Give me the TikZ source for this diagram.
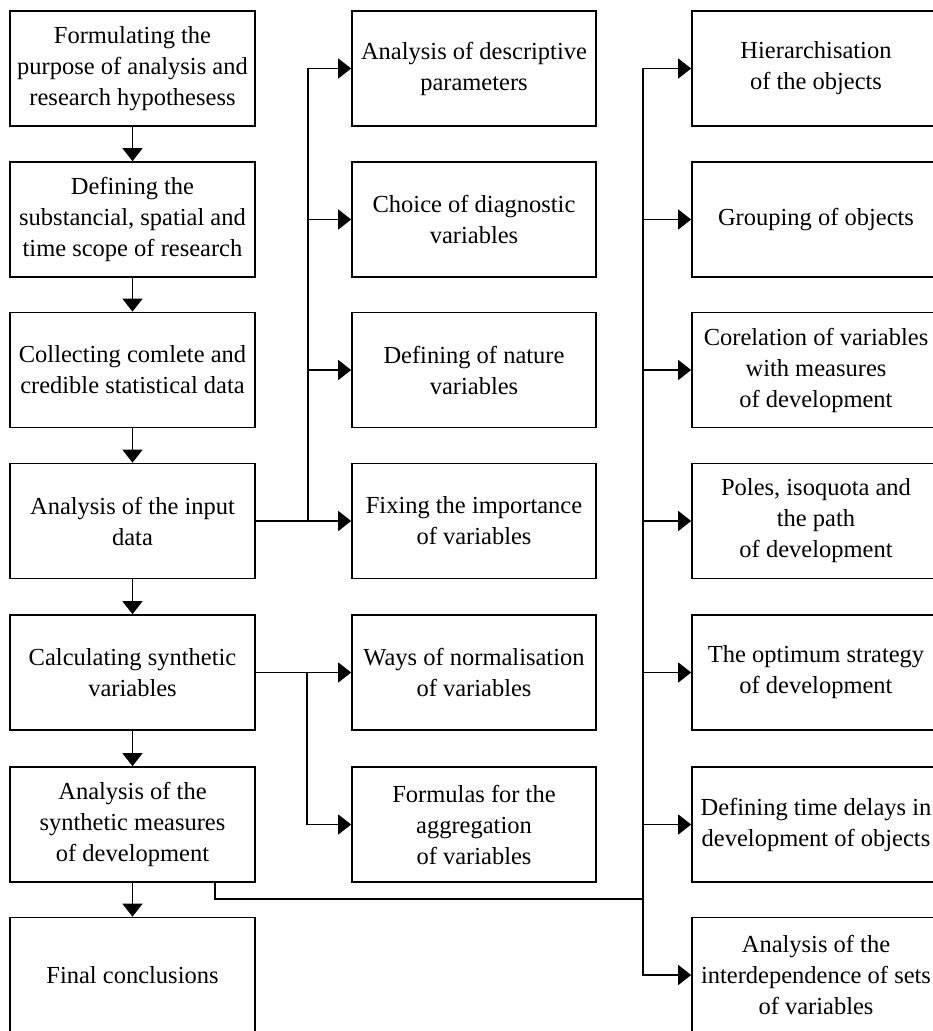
\documentclass[tikz,border=0pt]{standalone}
\usepackage{fontspec}
\setmainfont{Liberation Serif}
\usetikzlibrary{arrows.meta}
\begin{document}
\begin{tikzpicture}[x=1pt,y=-1pt,
  box/.style={draw, line width=1.7pt, rectangle, align=center, inner sep=0pt,
    minimum height=115pt, font=\fontsize{24.5pt}{31pt}\selectfont},
  lbox/.style={box, minimum width=245pt},
  mbox/.style={box, minimum width=244pt},
  rbox/.style={box, minimum width=248pt},
  link/.style={line width=1.7pt},
  arr/.style={link, -{Triangle[length=13pt,width=20pt]}}]
\useasboundingbox (0,0) rectangle (933,1031);
\clip (0,0) rectangle (933,1031);

% main sequence of stages
\node[lbox] (b1) at (132.5,68.5) {Formulating the\\purpose of analysis and\\research hypothesess};
\node[lbox] (b2) at (132.5,219.5) {Defining the\\substancial, spatial and\\time scope of research};
\node[lbox] (b3) at (132.5,370) {Collecting comlete and\\credible statistical data};
\node[lbox] (b4) at (132.5,521) {Analysis of the input\\data};
\node[lbox] (b5) at (132.5,672.5) {Calculating synthetic\\variables};
\node[lbox] (b6) at (132.5,824.5) {Analysis of the\\synthetic measures\\of development};
\node[lbox] (b7) at (132.5,975) {Final conclusions};

% detailed steps of input data analysis and synthesis
\node[mbox] (m1) at (474,68.5) {Analysis of descriptive\\parameters};
\node[mbox] (m2) at (474,219.5) {Choice of diagnostic\\variables};
\node[mbox] (m3) at (474,370) {Defining of nature\\variables};
\node[mbox] (m4) at (474,521) {Fixing the importance\\of variables};
\node[mbox] (m5) at (474,672.5) {Ways of normalisation\\of variables};
\node[mbox] (m6) at (474,824.5) {Formulas for the\\aggregation\\of variables};

% analyses of the synthetic measures
\node[rbox] (r1) at (816,68.5) {Hierarchisation\\of the objects};
\node[rbox] (r2) at (816,219.5) {Grouping of objects};
\node[rbox] (r3) at (816,370) {Corelation of variables\\with measures\\of development};
\node[rbox] (r4) at (816,521) {Poles, isoquota and\\the path\\of development};
\node[rbox] (r5) at (816,672.5) {The optimum strategy\\of development};
\node[rbox] (r6) at (816,824.5) {Defining time delays in\\development of objects};
\node[rbox] (r7) at (816,975) {Analysis of the\\interdependence of sets\\of variables};

% vertical flow
\draw[arr] (b1) -- (b2);
\draw[arr] (b2) -- (b3);
\draw[arr] (b3) -- (b4);
\draw[arr] (b4) -- (b5);
\draw[arr] (b5) -- (b6);
\draw[arr] (b6) -- (b7);

% branching from input data analysis
\coordinate (jA) at (308,521);
\draw[arr] (b4.east) -- (m4.west);
\draw[arr] (jA) |- (m1.west);
\draw[arr] (jA) |- (m2.west);
\draw[arr] (jA) |- (m3.west);

% branching from synthetic variables
\coordinate (jB) at (307,672.5);
\draw[arr] (b5.east) -- (m5.west);
\draw[arr] (jB) |- (m6.west);

% branching from synthetic measures
\coordinate (b6out) at (215,882);
\coordinate (jC) at (643,899);
\draw[link] (b6out) |- (jC);
\draw[arr] (jC) |- (r1.west);
\draw[arr] (jC) |- (r2.west);
\draw[arr] (jC) |- (r3.west);
\draw[arr] (jC) |- (r4.west);
\draw[arr] (jC) |- (r5.west);
\draw[arr] (jC) |- (r6.west);
\draw[arr] (jC) |- (r7.west);
\end{tikzpicture}
\end{document}
